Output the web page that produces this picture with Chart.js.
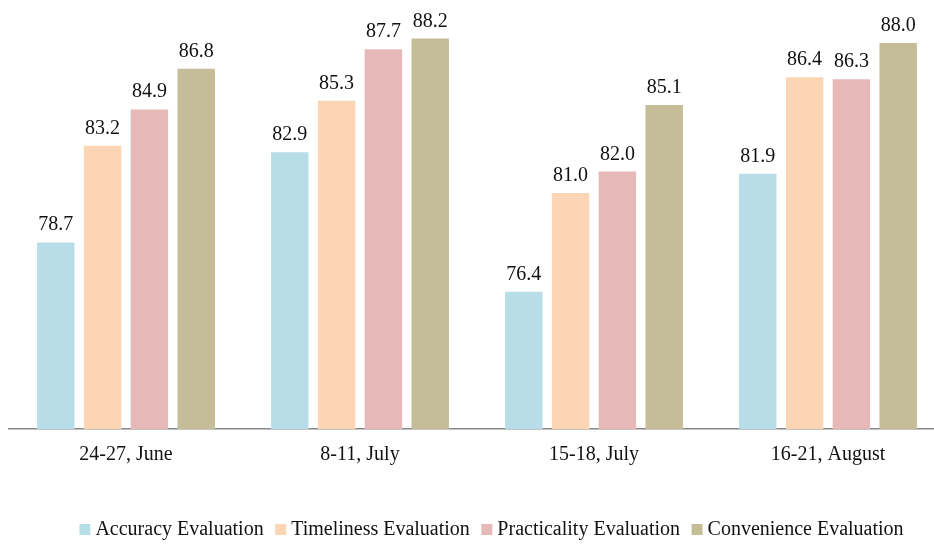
<!DOCTYPE html>
<html>
<head>
<meta charset="utf-8">
<script src="https://cdn.jsdelivr.net/npm/chart.js@4/dist/chart.umd.min.js"></script>
<style>
  html, body { margin: 0; padding: 0; background: #fff; overflow: hidden; }
  #wrap { width: 980px; height: 545px; position: relative; }
</style>
</head>
<body>
<div id="wrap"><canvas id="chart"></canvas></div>
<script>
// Survey periods and the four evaluation scores for each one
const periods = ['24-27, June', '8-11, July', '15-18, July', '16-21, August'];
const accuracy = [78.7, 82.9, 76.4, 81.9];
const timeliness = [83.2, 85.3, 81.0, 86.4];
const practicality = [84.9, 87.7, 82.0, 86.3];
const convenience = [86.8, 88.2, 85.1, 88.0];
const seriesNames = ['Accuracy Evaluation', 'Timeliness Evaluation', 'Practicality Evaluation', 'Convenience Evaluation'];
const seriesColors = ['#B7DEE8', '#FCD5B5', '#E6B9B8', '#C4BD97'];

const FONT = '"Liberation Serif", "Times New Roman", Times, serif';

// Writes each bar's value just above it
const valueLabels = {
  id: 'valueLabels',
  afterDatasetsDraw(chart) {
    const ctx = chart.ctx;
    ctx.save();
    ctx.font = '20px ' + FONT;
    ctx.fillStyle = '#111';
    ctx.textAlign = 'center';
    ctx.textBaseline = 'alphabetic';
    chart.data.datasets.forEach((ds, i) => {
      const meta = chart.getDatasetMeta(i);
      meta.data.forEach((bar, j) => {
        ctx.fillText(ds.data[j].toFixed(1), bar.x, bar.y - 12);
      });
    });
    ctx.restore();
  }
};

// Fixes the legend band height and nudges the legend row to the right
const legendPlacement = {
  id: 'legendPlacement',
  beforeInit(chart) {
    const legend = chart.legend;
    if (!legend) return;
    const origFit = legend.fit.bind(legend);
    legend.fit = function () {
      origFit();
      this.height = 42;
    };
  },
  afterLayout(chart) {
    const legend = chart.legend;
    if (!legend) return;
    legend.left += 17;
    legend.right += 17;
  }
};

const allSeries = [accuracy, timeliness, practicality, convenience];

new Chart(document.getElementById('chart'), {
  type: 'bar',
  data: {
    labels: periods,
    datasets: allSeries.map((vals, i) => ({
      label: seriesNames[i],
      data: vals,
      backgroundColor: seriesColors[i],
      borderWidth: 0,
      categoryPercentage: 0.8,
      barPercentage: 0.8
    }))
  },
  options: {
    responsive: true,
    maintainAspectRatio: false,
    animation: false,
    layout: { padding: { left: 9, right: 35, top: 0, bottom: 0 } },
    plugins: {
      tooltip: { enabled: false },
      legend: {
        position: 'bottom',
        labels: {
          font: { family: FONT, size: 20 },
          color: '#111',
          usePointStyle: true,
          pointStyle: 'rect',
          boxWidth: 1,
          boxHeight: 11,
          padding: 16.5
        }
      }
    },
    scales: {
      x: {
        grid: { display: false },
        border: { display: true, color: '#888', width: 1.5 },
        ticks: { font: { family: FONT, size: 20 }, color: '#111', padding: 6 },
        afterFit(axis) { axis.height = 74; }
      },
      y: {
        display: false,
        min: 70,
        max: 90
      }
    }
  },
  plugins: [valueLabels, legendPlacement]
});
</script>
</body>
</html>
